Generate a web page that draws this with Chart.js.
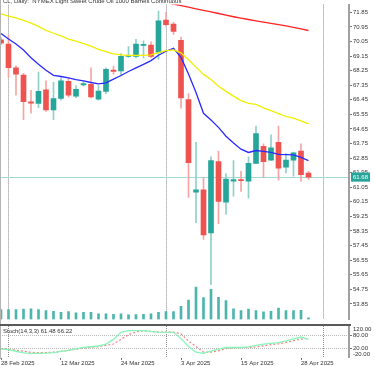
<!DOCTYPE html>
<html>
<head>
<meta charset="utf-8">
<script src="https://cdn.jsdelivr.net/npm/chart.js@4.4.1/dist/chart.umd.min.js"></script>
<style>
  html, body { margin: 0; padding: 0; background: #fff; }
  #wrap { position: relative; width: 375px; height: 366px; overflow: hidden; background: #fff;
          font-family: 'Liberation Sans', Arial, sans-serif; }
  canvas { position: absolute; left: 0; }
  #main { top: 0; }
  #stoch { top: 318px; }
  .txt { position: absolute; font-size: 6px; line-height: 6px; color: #333; white-space: nowrap; }
  #title { left: 3px; top: -2px; }
  #stochLabel { left: 3px; top: 328px; }
  #sep { position: absolute; left: 0; top: 324px; width: 351px; height: 2px; background: #5a5a5a; }
  #leftEdge { position: absolute; left: 0; top: 0; width: 1px; height: 359px; background: #b4b4b4; }
</style>
</head>
<body>
<div id="wrap">
  <canvas id="main" width="375" height="324"></canvas>
  <canvas id="stoch" width="375" height="48"></canvas>
  <div id="leftEdge"></div>
  <div id="sep"></div>
  <div class="txt" id="title">CL, Daily:&nbsp; NYMEX Light Sweet Crude Oil 1000 Barrels Continuous</div>
  <div class="txt" id="stochLabel"></div>
</div>
<script>
// --- data (one entry per daily bar) ---
const dates = ['28 Feb 2025','3 Mar 2025','4 Mar 2025','5 Mar 2025','6 Mar 2025','7 Mar 2025','10 Mar 2025',
  '11 Mar 2025','12 Mar 2025','13 Mar 2025','14 Mar 2025','17 Mar 2025','18 Mar 2025','19 Mar 2025','20 Mar 2025',
  '21 Mar 2025','24 Mar 2025','25 Mar 2025','26 Mar 2025','27 Mar 2025','28 Mar 2025','31 Mar 2025','1 Apr 2025',
  '2 Apr 2025','3 Apr 2025','4 Apr 2025','7 Apr 2025','8 Apr 2025','9 Apr 2025','10 Apr 2025','11 Apr 2025',
  '14 Apr 2025','15 Apr 2025','16 Apr 2025','17 Apr 2025','21 Apr 2025','22 Apr 2025','23 Apr 2025','24 Apr 2025',
  '25 Apr 2025','28 Apr 2025','29 Apr 2025'];

const opens  = [70.15,69.89,68.43,67.97,66.33,66.23,67.07,65.83,66.53,67.59,66.67,67.37,67.41,66.49,66.97,68.29,
  68.23,69.13,69.13,69.81,69.83,69.37,71.37,71.13,70.13,66.47,60.75,60.89,58.23,62.63,60.13,61.43,61.53,61.43,
  62.53,63.57,62.73,63.83,62.29,62.73,63.29,61.93];
const highs  = [70.30,70.43,68.55,68.09,67.03,68.17,67.63,67.53,67.83,67.77,67.33,67.60,68.43,67.33,68.43,68.53,
  69.30,69.73,70.19,70.09,70.03,71.93,71.85,71.23,70.33,66.83,63.83,61.67,62.93,63.29,61.90,62.70,62.03,62.93,
  64.83,63.73,64.29,64.83,63.13,63.23,63.73,62.03];
const lows   = [69.85,67.83,66.73,65.23,65.63,65.97,65.73,65.23,66.43,66.63,66.59,67.30,66.57,66.43,66.83,68.03,
  67.93,69.09,69.03,69.03,69.03,68.95,71.00,70.49,65.93,60.43,58.87,57.83,55.03,58.80,59.37,60.50,60.80,60.37,
  62.50,61.63,62.70,61.49,61.93,61.73,61.43,61.53];
const closes = [69.95,68.43,68.03,66.33,66.25,66.97,65.83,66.53,67.63,66.73,67.09,67.45,66.63,66.99,68.33,68.21,
  69.13,69.19,69.89,69.87,69.13,71.33,71.09,70.67,66.57,62.57,60.89,58.10,62.69,60.17,61.55,61.53,61.45,62.53,
  64.37,62.63,63.49,62.23,62.73,63.17,61.83,61.68];

// volume, thousand contracts
const volumes = [150,150,150,160,165,150,135,125,110,120,100,110,110,85,85,80,85,70,75,80,85,110,120,120,
  200,300,500,335,465,340,290,165,135,160,135,115,125,175,135,135,140,25];

// moving averages (blue fast, yellow mid, red slow)
const maFast = [70.55,70.21,69.90,69.52,69.05,68.65,68.28,67.96,67.89,67.81,67.70,67.62,67.52,67.44,67.50,67.73,
  67.95,68.20,68.42,68.64,68.87,69.20,69.45,69.63,69.07,68.05,66.90,65.62,65.20,64.75,64.20,63.78,63.40,63.20,
  63.32,63.27,63.20,63.08,63.07,63.05,62.90,62.70];
const maMid = [71.75,71.62,71.51,71.35,71.18,70.98,70.74,70.56,70.40,70.20,70.07,69.92,69.76,69.56,69.43,69.29,
  69.22,69.20,69.19,69.20,69.23,69.36,69.49,69.53,69.35,68.92,68.47,68.02,67.70,67.29,66.97,66.68,66.40,66.23,
  66.17,65.95,65.78,65.60,65.42,65.32,65.15,64.97];
const maSlow = [null,null,null,null,null,null,null,null,null,null,null,null,null,null,null,null,null,null,null,
  null,null,null,72.45,72.36,72.27,72.17,72.07,71.97,71.88,71.78,71.68,71.58,71.49,71.41,71.33,71.25,71.17,
  71.10,71.02,70.93,70.83,70.73];

// Stochastic(14,3,3)
const stochK = [19,16,9,1.5,0,0,1,3,8,12.7,19.4,25.8,29,32.3,41,61.6,93,100,100,100,96,94,93,93,65,30,5,0,10,
  18,25.6,25.6,25.6,28.5,35,40.7,44,47.5,55,64,72,61.48];
const stochD = [21,18,14,9,4,3,3.5,5,9,13,18,23,26,29.5,35,41,62,82,95,100,97,94,94,94,86,55,30,5,5,11,21,24,
  25,25.6,28,33,38,42,48,56,63,66.22];

const priceTicks = [71.85,70.95,70.05,69.15,68.25,67.35,66.45,65.55,64.65,63.75,62.85,61.95,61.05,60.15,59.25,
  58.35,57.45,56.55,55.65,54.75,53.85];
const stochTicks = [120, 80, 20, -20];
const stochLevels = [80, 20];
const labelStep = 8;          // a date label every 8 bars
const periodSeps = [1, 22, 43]; // first bar of Mar, Apr, May

// --- layout constants ---
const xMin = -1 / 7.5, xMax = 348 / 7.5;
const priceMin = 52.89, priceMax = 72.33;
const bull = '#26a69a', bear = '#ef5350';
const bullWick = '#8fd1c9', bearWick = '#f4a5a4';
const volColor = '#4db6ac';
const FONT = { family: "'Liberation Sans', Arial, sans-serif", size: 6 };
const lastPrice = closes[closes.length - 1];

Chart.defaults.font.family = FONT.family;
Chart.defaults.font.size = FONT.size;
Chart.defaults.color = '#333';

const idx = dates.map((d, i) => i);
const isUp = i => closes[i] >= opens[i];
const pts = arr => idx.map(i => ({ x: i, y: arr[i] }));

document.getElementById('stochLabel').textContent =
  'Stoch(14,3,3) ' + stochK[stochK.length - 1].toFixed(2) + ' ' + stochD[stochD.length - 1].toFixed(2);

function sepAxis(position) {
  return {
    type: 'linear', position: position, min: xMin, max: xMax, offset: false,
    afterBuildTicks: s => { s.ticks = periodSeps.map(v => ({ value: v })); },
    afterFit: s => { s.height = 0; },
    ticks: { display: false },
    grid: { color: '#8a8a8a', lineWidth: 1, drawTicks: false, offset: false },
    border: { display: false, dash: [1, 1] }
  };
}

// --- main price panel ---
new Chart(document.getElementById('main'), {
  type: 'bar',
  data: {
    datasets: [
      { type: 'line', data: pts(maSlow), borderColor: '#ff2424', borderWidth: 1.3, pointRadius: 0, order: 0 },
      { type: 'line', data: pts(maMid), borderColor: '#f2ee00', borderWidth: 1.3, pointRadius: 0, order: 0 },
      { type: 'line', data: pts(maFast), borderColor: '#2a2aff', borderWidth: 1.3, pointRadius: 0, order: 0 },
      { data: idx.map(i => ({ x: i, y: [opens[i], closes[i]] })),
        backgroundColor: idx.map(i => isUp(i) ? bull : bear),
        barThickness: 5, minBarLength: 1, grouped: false, borderWidth: 0, order: 1 },
      { data: idx.map(i => ({ x: i, y: [lows[i], highs[i]] })),
        backgroundColor: idx.map(i => isUp(i) ? bullWick : bearWick),
        barThickness: 1, grouped: false, borderWidth: 0, order: 2 },
      { data: pts(volumes), yAxisID: 'yVol', backgroundColor: volColor,
        barThickness: 2, grouped: false, borderWidth: 0, order: 3 }
    ]
  },
  options: {
    responsive: false, animation: false, devicePixelRatio: 1,
    layout: { padding: 0, autoPadding: false },
    plugins: { legend: { display: false }, tooltip: { enabled: false } },
    scales: {
      x: sepAxis('bottom'),
      y: {
        position: 'right', min: priceMin, max: priceMax,
        afterBuildTicks: s => { s.ticks = priceTicks.map(v => ({ value: v })).concat([{ value: lastPrice }]); },
        afterFit: s => { s.width = 26; },
        grid: {
          drawOnChartArea: true, tickLength: 3, lineWidth: 1,
          color: c => (c.tick && c.tick.value === lastPrice) ? '#a2d9d2' : 'rgba(0,0,0,0)',
          tickColor: c => (c.tick && c.tick.value === lastPrice) ? 'rgba(0,0,0,0)' : '#777'
        },
        border: { display: true, color: '#a0a0a0', width: 2 },
        ticks: {
          autoSkip: false, padding: 1, font: FONT,
          color: c => (c.tick && c.tick.value === lastPrice) ? '#fff' : '#333',
          showLabelBackdrop: c => !!(c.tick && c.tick.value === lastPrice),
          backdropColor: bull, backdropPadding: { x: 2, y: 1 },
          callback: v => v.toFixed(2)
        }
      },
      yVol: { display: false, min: 0, max: 4860 }
    }
  }
});

// --- stochastic panel with date axis ---
new Chart(document.getElementById('stoch'), {
  type: 'line',
  data: {
    datasets: [
      { data: pts(stochK), borderColor: '#86f5b8', borderWidth: 1.3, pointRadius: 0 },
      { data: pts(stochD), borderColor: '#f08282', borderWidth: 1.2, borderDash: [2, 2], pointRadius: 0 }
    ]
  },
  options: {
    responsive: false, animation: false, devicePixelRatio: 1,
    layout: { padding: { top: 7.67, left: 0, right: 0, bottom: 0 }, autoPadding: false },
    plugins: { legend: { display: false }, tooltip: { enabled: false } },
    scales: {
      x: {
        type: 'linear', position: 'bottom', min: xMin, max: xMax, offset: false,
        afterBuildTicks: s => { s.ticks = idx.filter(i => i % labelStep === 0).map(v => ({ value: v })); },
        afterFit: s => { s.height = 7.67; },
        grid: { drawOnChartArea: false, tickLength: 2, tickColor: '#666', offset: false },
        border: { display: false },
        ticks: { autoSkip: false, maxRotation: 0, align: 'start', padding: 0, font: FONT,
                 callback: v => dates[v] }
      },
      xSep: sepAxis('top'),
      yLev: {
        position: 'left', min: -20, max: 120,
        afterBuildTicks: s => { s.ticks = stochLevels.map(v => ({ value: v })); },
        afterFit: s => { s.width = 0; },
        ticks: { display: false },
        grid: { color: '#b8b8b8', drawTicks: false },
        border: { display: false, dash: [1, 1] }
      },
      y: {
        position: 'right', min: -20, max: 120,
        afterBuildTicks: s => { s.ticks = stochTicks.map(v => ({ value: v })); },
        afterFit: s => { s.width = 26; },
        grid: { drawOnChartArea: false, tickLength: 3,
                tickColor: c => (c.tick && stochLevels.includes(c.tick.value)) ? '#777' : 'rgba(0,0,0,0)' },
        border: { display: true, color: '#a0a0a0', width: 2 },
        ticks: {
          autoSkip: false, padding: 1, font: FONT,
          // end labels sit inside the panel, like the terminal draws them
          callback: v => v === stochTicks[0] ? [' ', v.toFixed(2)]
                       : v === stochTicks[stochTicks.length - 1] ? [v.toFixed(2), ' ']
                       : v.toFixed(2)
        }
      }
    }
  }
});
</script>
</body>
</html>
